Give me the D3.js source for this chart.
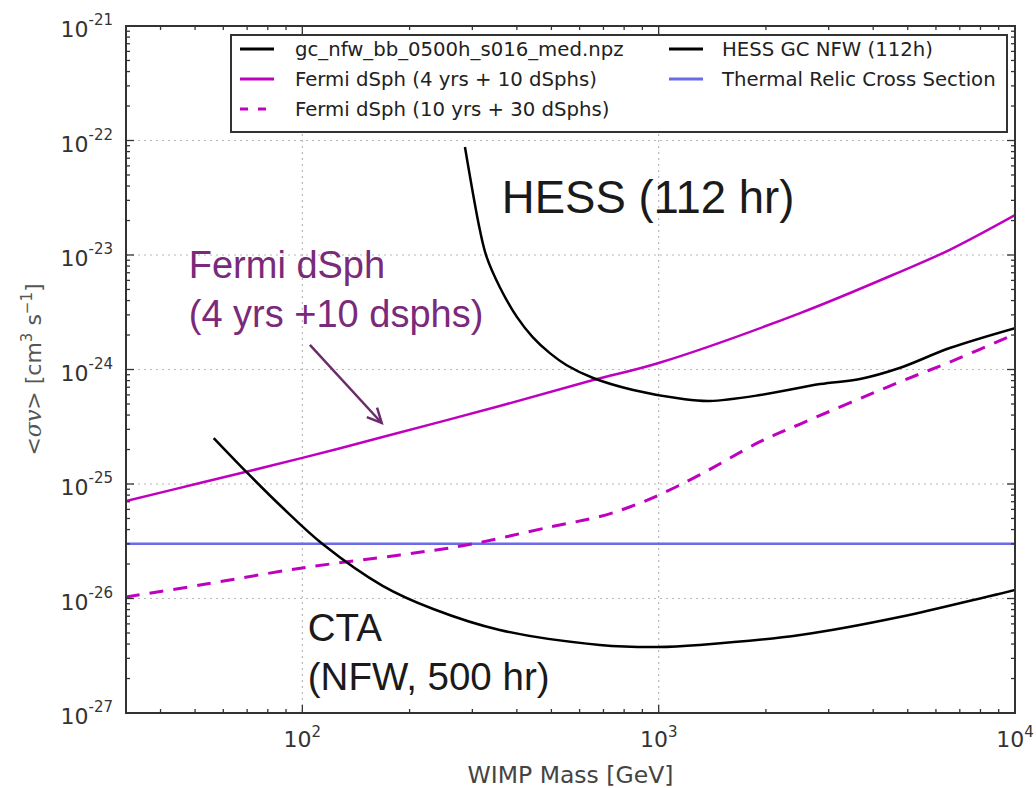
<!DOCTYPE html>
<html><head><meta charset="utf-8">
<script src="https://cdn.jsdelivr.net/npm/d3@7"></script>
<style>body{margin:0;background:#fff}</style>
</head><body><svg id="c" width="1036" height="788"></svg>
<script>
// ---- data ----
const massFermi = [32, 51.6, 100, 168, 358, 655, 1000, 2495, 4742, 6560, 10000];
const svFermi   = [7.1e-26, 1.02e-25, 1.69e-25, 2.57e-25, 4.80e-25, 8.09e-25, 1.14e-24, 3.11e-24, 7.1e-24, 1.11e-23, 2.23e-23];

const massFermi30 = [32, 51.6, 100, 188, 289, 495, 684, 829, 1000, 1303, 1919, 2495, 4742, 6560, 10000];
const svFermi30   = [1.03e-26, 1.31e-26, 1.85e-26, 2.40e-26, 2.93e-26, 4.21e-26, 5.20e-26, 6.3e-26, 8.0e-26, 1.20e-25, 2.33e-25, 3.34e-25, 7.78e-25, 1.16e-24, 2.04e-24];

const massCTA = [56.4, 70.1, 88.2, 114, 168, 233, 358, 684, 1000, 1303, 2495, 4742, 10000];
const svCTA   = [2.52e-25, 1.25e-25, 6.17e-26, 2.99e-26, 1.29e-26, 8.09e-27, 5.31e-27, 3.93e-27, 3.77e-27, 3.93e-27, 4.80e-27, 6.89e-27, 1.19e-26];

const massHESS = [286, 315, 329, 358, 400, 443, 495, 552, 655, 848, 1171, 1390, 1926, 2838, 3673, 4742, 6560, 10000];
const svHESS   = [8.77e-23, 1.65e-23, 9.62e-24, 5.26e-24, 2.88e-24, 1.92e-24, 1.39e-24, 1.09e-24, 8.43e-25, 6.62e-25, 5.52e-25, 5.31e-25, 5.98e-25, 7.46e-25, 8.26e-25, 1.03e-24, 1.54e-24, 2.30e-24];

const thermalRelic = 3e-26;

const xDomain = [32, 10000];
const yDomain = [1e-27, 1e-21];
const xMajor = [100, 1000, 10000];
const xMajorExp = ["2", "3", "4"];
const yMajorExp = [-27, -26, -25, -24, -23, -22, -21];

const legendItems = [
  {label: "gc_nfw_bb_0500h_s016_med.npz", color: "#000", dash: null},
  {label: "Fermi dSph (4 yrs + 10 dSphs)", color: "#bf00bf", dash: null},
  {label: "Fermi dSph (10 yrs + 30 dSphs)", color: "#bf00bf", dash: "8,10"},
  {label: "HESS GC NFW (112h)", color: "#000", dash: null},
  {label: "Thermal Relic Cross Section", color: "#6b6bea", dash: null}
];

// ---- layout ----
const m = {left: 126, top: 26, right: 1015, bottom: 713};
const svg = d3.select("#c");
const x = d3.scaleLog().domain(xDomain).range([m.left, m.right]);
const y = d3.scaleLog().domain(yDomain).range([m.bottom, m.top]);

// grid
const grid = svg.append("g").attr("stroke", "#b8b8b8").attr("stroke-width", 1.2).attr("stroke-dasharray", "2,4");
xMajor.slice(0, 2).forEach(v => grid.append("line").attr("x1", x(v)).attr("x2", x(v)).attr("y1", m.top).attr("y2", m.bottom));
yMajorExp.slice(1, -1).forEach(e => grid.append("line").attr("y1", y(Math.pow(10, e))).attr("y2", y(Math.pow(10, e))).attr("x1", m.left).attr("x2", m.right));

// lines
svg.append("clipPath").attr("id", "clp").append("rect")
  .attr("x", m.left).attr("y", m.top).attr("width", m.right - m.left).attr("height", m.bottom - m.top);
const plot = svg.append("g").attr("clip-path", "url(#clp)");
const line = d3.line().x(d => x(d[0])).y(d => y(d[1])).curve(d3.curveCatmullRom.alpha(0.5));
const zip = (a, b) => a.map((v, i) => [v, b[i]]);

plot.append("path").datum([[xDomain[0], thermalRelic], [xDomain[1], thermalRelic]])
  .attr("d", line).attr("fill", "none").attr("stroke", "#6b6bea").attr("stroke-width", 2.5);
plot.append("path").datum(zip(massFermi30, svFermi30)).attr("d", line)
  .attr("fill", "none").attr("stroke", "#bf00bf").attr("stroke-width", 3).attr("stroke-dasharray", "14,10");
plot.append("path").datum(zip(massFermi, svFermi)).attr("d", line)
  .attr("fill", "none").attr("stroke", "#bf00bf").attr("stroke-width", 2.5);
plot.append("path").datum(zip(massCTA, svCTA)).attr("d", line)
  .attr("fill", "none").attr("stroke", "#000").attr("stroke-width", 2.5);
plot.append("path").datum(zip(massHESS, svHESS)).attr("d", line)
  .attr("fill", "none").attr("stroke", "#000").attr("stroke-width", 2.5);

// ticks
const tk = svg.append("g").attr("stroke", "#333").attr("stroke-width", 1.3);
const xMinor = [];
for (let d = 10; d < 10000; d *= 10) for (let k = 2; k <= 9; k++) { const v = d * k; if (v > xDomain[0] && v < xDomain[1]) xMinor.push(v); }
xMinor.forEach(v => {
  tk.append("line").attr("x1", x(v)).attr("x2", x(v)).attr("y1", m.bottom).attr("y2", m.bottom - 4);
  tk.append("line").attr("x1", x(v)).attr("x2", x(v)).attr("y1", m.top).attr("y2", m.top + 4);
});
xMajor.forEach(v => {
  tk.append("line").attr("x1", x(v)).attr("x2", x(v)).attr("y1", m.bottom).attr("y2", m.bottom - 8);
  tk.append("line").attr("x1", x(v)).attr("x2", x(v)).attr("y1", m.top).attr("y2", m.top + 8);
});
for (let e = -27; e < -21; e++) for (let k = 2; k <= 9; k++) {
  const v = k * Math.pow(10, e);
  tk.append("line").attr("y1", y(v)).attr("y2", y(v)).attr("x1", m.left).attr("x2", m.left + 4);
  tk.append("line").attr("y1", y(v)).attr("y2", y(v)).attr("x1", m.right).attr("x2", m.right - 4);
}
yMajorExp.forEach(e => {
  const v = Math.pow(10, e);
  tk.append("line").attr("y1", y(v)).attr("y2", y(v)).attr("x1", m.left).attr("x2", m.left + 8);
  tk.append("line").attr("y1", y(v)).attr("y2", y(v)).attr("x1", m.right).attr("x2", m.right - 8);
});

// frame
svg.append("rect").attr("x", m.left).attr("y", m.top).attr("width", m.right - m.left).attr("height", m.bottom - m.top)
  .attr("fill", "none").attr("stroke", "#333").attr("stroke-width", 2);

// tick labels
const font = "DejaVu Sans, sans-serif";
xMajor.forEach((v, i) => {
  const t = svg.append("text").attr("x", x(v)).attr("y", 747).attr("text-anchor", "middle")
    .attr("font-family", font).attr("font-size", 22).attr("fill", "#333");
  t.append("tspan").text("10");
  t.append("tspan").attr("dy", -10).attr("font-size", 15).text(xMajorExp[i]);
});
yMajorExp.forEach(e => {
  const t = svg.append("text").attr("x", 113).attr("y", y(Math.pow(10, e)) + 11).attr("text-anchor", "end")
    .attr("font-family", font).attr("font-size", 22).attr("fill", "#333");
  t.append("tspan").text("10");
  t.append("tspan").attr("dy", -12).attr("font-size", 15).text(String(e));
});

// axis labels
svg.append("text").attr("x", (m.left + m.right) / 2).attr("y", 783).attr("text-anchor", "middle")
  .attr("font-family", font).attr("font-size", 23.5).attr("fill", "#444").text("WIMP Mass [GeV]");
const yl = svg.append("text").attr("transform", `translate(41,${(m.top + m.bottom) / 2}) rotate(-90)`)
  .attr("text-anchor", "middle").attr("font-family", font).attr("font-size", 22).attr("fill", "#555");
yl.append("tspan").text("<");
yl.append("tspan").attr("font-style", "italic").attr("font-family", "DejaVu Serif, serif").text("σv");
yl.append("tspan").text("> [cm");
yl.append("tspan").attr("dy", -9).attr("font-size", 15).text("3");
yl.append("tspan").attr("dy", 9).text(" s");
yl.append("tspan").attr("dy", -9).attr("font-size", 15).text("−1");
yl.append("tspan").attr("dy", 9).text("]");

// legend
const lg = svg.append("g");
lg.append("rect").attr("x", 231).attr("y", 35).attr("width", 776).attr("height", 97)
  .attr("fill", "#fff").attr("stroke", "#333").attr("stroke-width", 2);
legendItems.forEach((d, i) => {
  const col = i < 3 ? 0 : 1, row = i < 3 ? i : i - 3;
  const lx = col === 0 ? 240 : 669, tx = col === 0 ? 295 : 722, ly = 49 + row * 30;
  lg.append("line").attr("x1", lx).attr("x2", lx + 34).attr("y1", ly).attr("y2", ly)
    .attr("stroke", d.color).attr("stroke-width", 3).attr("stroke-dasharray", d.dash);
  lg.append("text").attr("x", tx).attr("y", ly + 7).attr("font-family", font).attr("font-size", 19.7)
    .attr("fill", "#222").text(d.label);
});

// annotations
const af = "Liberation Sans, Arial, sans-serif";
svg.append("text").attr("x", x(363)).attr("y", y(2.33e-23)).attr("font-family", af).attr("font-size", 45.5)
  .attr("fill", "#1a1a1a").text("HESS (112 hr)");
svg.append("text").attr("x", x(103.6)).attr("y", y(4.26e-27)).attr("font-family", af).attr("font-size", 38.5)
  .attr("fill", "#1a1a1a").text("CTA");
svg.append("text").attr("x", x(103.6)).attr("y", y(1.59e-27)).attr("font-family", af).attr("font-size", 38.5)
  .attr("fill", "#1a1a1a").text("(NFW, 500 hr)");
svg.append("text").attr("x", x(48)).attr("y", y(6.3e-24)).attr("font-family", af).attr("font-size", 38)
  .attr("fill", "#7a2a7a").text("Fermi dSph");
svg.append("text").attr("x", x(48)).attr("y", y(2.35e-24)).attr("font-family", af).attr("font-size", 38)
  .attr("fill", "#7a2a7a").text("(4 yrs +10 dsphs)");
const a0 = [x(105), y(1.64e-24)], a1 = [x(167), y(3.41e-25)];
const ang = Math.atan2(a1[1] - a0[1], a1[0] - a0[0]);
const hl = 16, ha = 0.45;
svg.append("line").attr("x1", a0[0]).attr("y1", a0[1]).attr("x2", a1[0]).attr("y2", a1[1])
  .attr("stroke", "#6b2c6b").attr("stroke-width", 2.5);
svg.append("path").attr("d", `M${a1[0] - hl * Math.cos(ang - ha)},${a1[1] - hl * Math.sin(ang - ha)}L${a1[0]},${a1[1]}L${a1[0] - hl * Math.cos(ang + ha)},${a1[1] - hl * Math.sin(ang + ha)}`)
  .attr("fill", "none").attr("stroke", "#6b2c6b").attr("stroke-width", 2.5);
</script></body></html>
